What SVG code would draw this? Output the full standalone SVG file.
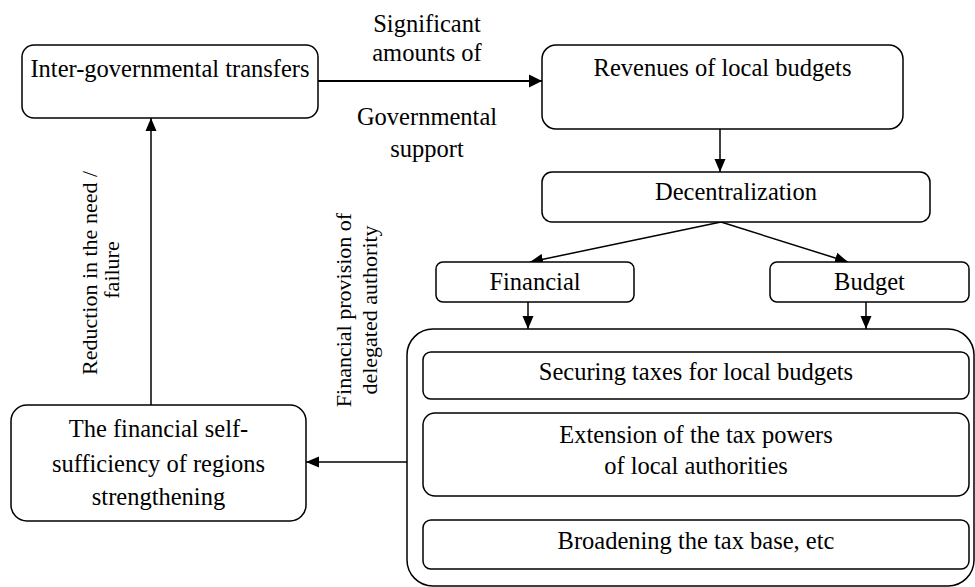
<svg xmlns="http://www.w3.org/2000/svg" width="975" height="587" viewBox="0 0 975 587">
<style>
  .box { fill: #fff; stroke: #000; stroke-width: 1.5; }
  .t { font-family: 'Liberation Serif', 'Times New Roman', Times, 'DejaVu Serif', serif; font-size: 24.5px; fill: #000; text-anchor: middle; }
  .r { font-family: 'Liberation Serif', 'Times New Roman', Times, 'DejaVu Serif', serif; font-size: 22px; fill: #000; text-anchor: middle; }
  .c { stroke: #000; stroke-width: 1.5; fill: none; marker-end: url(#ah); }
  .cb { stroke: #000; stroke-width: 2.2; fill: none; marker-end: url(#ahb); }
</style>
<defs>
  <marker id="ah" markerUnits="userSpaceOnUse" markerWidth="13" markerHeight="12" viewBox="0 0 13 12" refX="13" refY="6" orient="auto">
    <path d="M0,0.5 L13,6 L0,11.5 z" fill="#000"/>
  </marker>
  <marker id="ahb" markerUnits="userSpaceOnUse" markerWidth="13" markerHeight="14" viewBox="0 0 13 14" refX="13" refY="7" orient="auto">
    <path d="M0,0.5 L13,7 L0,13.5 z" fill="#000"/>
  </marker>
</defs>
<rect width="975" height="587" fill="#fff"/>

<g id="connectors" font-family="Liberation Serif, Times New Roman, serif">
  <line class="cb" x1="318" y1="81" x2="542" y2="81"/>
  <line class="c" x1="720" y1="129" x2="720" y2="172"/>
  <line class="c" x1="721" y1="222" x2="530" y2="262"/>
  <line class="c" x1="721" y1="222" x2="848" y2="262"/>
  <line class="c" x1="528" y1="302" x2="528" y2="329"/>
  <line class="c" x1="866" y1="302" x2="866" y2="329"/>
  <line class="c" x1="407" y1="462" x2="306" y2="462"/>
  <line class="c" x1="151" y1="405" x2="151" y2="118"/>
  <text class="t" x="427" y="32">Significant</text>
  <text class="t" x="427" y="61">amounts of</text>
  <text class="t" x="427" y="125">Governmental</text>
  <text class="t" x="427" y="157">support</text>
  <text class="r" transform="translate(96.5,273) rotate(-90)">Reduction in the need /</text>
  <text class="r" transform="translate(119,270) rotate(-90)">failure</text>
  <text class="r" transform="translate(351,310) rotate(-90)">Financial provision of</text>
  <text class="r" transform="translate(377,310) rotate(-90)">delegated authority</text>
</g>

<g id="transfers">
  <rect class="box" x="22" y="45" width="296" height="73" rx="12"/>
  <text class="t" x="170" y="77">Inter-governmental transfers</text>
</g>

<g id="revenues">
  <rect class="box" x="542" y="45" width="361" height="84" rx="14"/>
  <text class="t" x="722.5" y="76">Revenues of local budgets</text>
</g>

<g id="decentralization">
  <rect class="box" x="542" y="172" width="388" height="50" rx="10"/>
  <text class="t" x="736" y="200">Decentralization</text>
</g>

<g id="financial">
  <rect class="box" x="436" y="262" width="198" height="40" rx="7"/>
  <text class="t" x="535" y="290">Financial</text>
</g>

<g id="budget">
  <rect class="box" x="770" y="262" width="199" height="40" rx="7"/>
  <text class="t" x="869.5" y="290">Budget</text>
</g>

<g id="measures">
  <rect class="box" x="407" y="329" width="567" height="257" rx="26"/>
</g>

<g id="securing">
  <rect class="box" x="423" y="352" width="546" height="47" rx="8"/>
  <text class="t" x="696" y="380">Securing taxes for local budgets</text>
</g>

<g id="extension">
  <rect class="box" x="423" y="413" width="546" height="83" rx="12"/>
  <text class="t" x="696" y="443">Extension of the tax powers</text>
  <text class="t" x="696" y="474">of local authorities</text>
</g>

<g id="broadening">
  <rect class="box" x="423" y="520" width="546" height="49" rx="8"/>
  <text class="t" x="696" y="549">Broadening the tax base, etc</text>
</g>

<g id="selfsufficiency">
  <rect class="box" x="11" y="405" width="295" height="116" rx="16"/>
  <text class="t" x="158.5" y="437">The financial self-</text>
  <text class="t" x="158.5" y="472">sufficiency of regions</text>
  <text class="t" x="158.5" y="505">strengthening</text>
</g>
</svg>
